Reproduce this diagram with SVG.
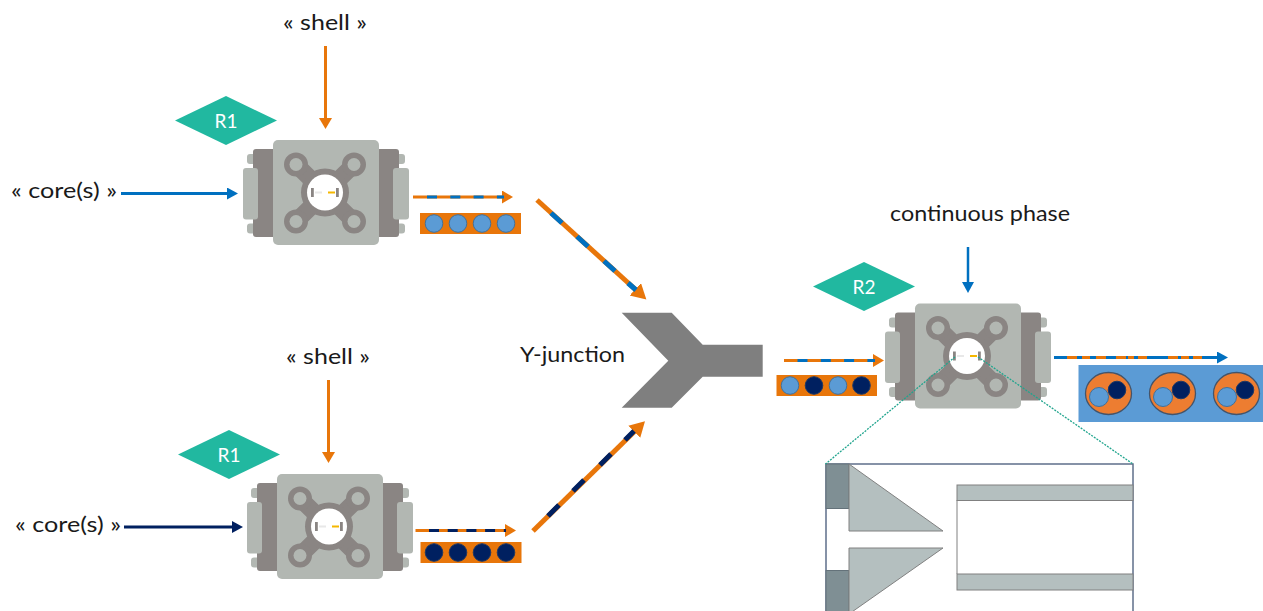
<svg xmlns="http://www.w3.org/2000/svg" xmlns:xlink="http://www.w3.org/1999/xlink" width="1263" height="611" viewBox="0 0 1263 611">
<style>
text{font-family:Lato,"Open Sans","Liberation Sans",sans-serif;font-size:22px;fill:#1a1a1a}
.r{font-size:19px;fill:#fff;text-anchor:middle}
.dia{fill:#21b8a0}
.pale{fill:#b2b7b2}
.dark{fill:#8a8583}
.xarm{stroke:#8a8583;stroke-width:17;fill:none}
.org{fill:#e8760a}
.lt{fill:#5b9bd5;stroke:#41719c;stroke-width:1}
.nv{fill:#002060;stroke:#1f3864;stroke-width:1}
.o{stroke:#e8760a;fill:none}
.b{stroke:#0070c0;fill:none}
.n{stroke:#002060;fill:none}
.teal{stroke:#21a58e;stroke-width:1.3;stroke-dasharray:2 1.2;fill:none}
.metal{fill:#b4bfbf;stroke:#808080;stroke-width:1}
.block{fill:#7f8f94;stroke:#64727a;stroke-width:1}
</style>
<defs>
<filter id="soft" x="-5%" y="-5%" width="110%" height="110%"><feGaussianBlur stdDeviation="0.45"/></filter>
<marker id="ao" markerUnits="userSpaceOnUse" markerWidth="14" markerHeight="14" refX="1" refY="6.500" orient="auto"><path d="M0 0L11 6.500L0 13Z" fill="#e8760a"/></marker>
<marker id="ab" markerUnits="userSpaceOnUse" markerWidth="14" markerHeight="14" refX="1" refY="6" orient="auto"><path d="M0 0L11 6L0 12Z" fill="#0070c0"/></marker>
<marker id="an" markerUnits="userSpaceOnUse" markerWidth="14" markerHeight="14" refX="1" refY="6" orient="auto"><path d="M0 0L11 6L0 12Z" fill="#002060"/></marker>
<marker id="ad" markerUnits="userSpaceOnUse" markerWidth="22" markerHeight="22" refX="1" refY="8.500" orient="auto"><path d="M0 0L15 8.500L0 17Z" fill="#e8760a"/></marker>
<g id="chip" filter="url(#soft)">
<rect class="pale" x="-79" y="-38.500" width="158" height="10" rx="3"/>
<rect class="pale" x="-79" y="31" width="158" height="10" rx="3"/>
<rect class="dark" x="-73" y="-43.500" width="146" height="88" rx="3"/>
<rect class="pale" x="-83" y="-24.500" width="15" height="51.500" rx="3"/>
<rect class="pale" x="67" y="-24.500" width="16" height="51.500" rx="3"/>
<rect class="pale" x="-53" y="-52.500" width="106" height="105" rx="5"/>
<path class="xarm" d="M-30-28L28 29M28-28L-30 29"/>
<g class="dark"><circle cx="-30" cy="-28" r="12"/><circle cx="28" cy="-28" r="12"/><circle cx="-30" cy="29" r="12"/><circle cx="28" cy="29" r="12"/><circle cx="-1" cy="0" r="24"/></g>
<g class="pale"><circle cx="-30" cy="-28" r="6.500"/><circle cx="28" cy="-28" r="6.500"/><circle cx="-30" cy="29" r="6.500"/><circle cx="28" cy="29" r="6.500"/></g>
<circle cx="-1" cy="0" r="18" fill="#fff"/>
<rect x="-15" y="-4.500" width="2.800" height="9" fill="#8a8583"/>
<rect x="10" y="-4.500" width="2.800" height="9" fill="#8a8583"/>
<rect x="-11" y="-1" width="7" height="2" fill="#e8e8e8"/>
<rect x="2" y="-1" width="7" height="2" fill="#f5b800"/>
</g>
</defs>

<g id="r1-top"><path class="dia" d="M175 120.500L226 96L277 120.500L226 145Z"/><text class="r" x="226" y="127.500">R1</text></g>
<g id="r1-bottom"><path class="dia" d="M178 454.500L229 430L280 454.500L229 479Z"/><text class="r" x="229" y="461.500">R1</text></g>
<g id="r2"><path class="dia" d="M813 286.500L864 262L915 286.500L864 311Z"/><text class="r" x="864" y="293.500">R2</text></g>

<g id="chip-top"><use xlink:href="#chip" href="#chip" x="326" y="192.500"/></g>
<g id="chip-bottom"><use xlink:href="#chip" href="#chip" x="330" y="526.500"/></g>

<g id="inset">
<rect x="826" y="464" width="307" height="160" fill="#fff" stroke="#5f6f8a" stroke-width="1.500"/>
<rect class="block" x="826" y="464" width="23" height="44.500"/>
<rect class="block" x="826" y="570.500" width="23" height="50"/>
<path class="metal" d="M849 464L943 531L849 531Z"/>
<path class="metal" d="M849 548L943 548L849 614Z"/>
<rect class="metal" x="957" y="485" width="176" height="15.500"/>
<rect class="metal" x="957" y="574" width="176" height="16"/>
<line x1="957" y1="500" x2="957" y2="574" stroke="#808080"/>
</g>

<g id="chip-r2"><use xlink:href="#chip" href="#chip" x="968" y="356"/></g>

<g id="y-junction"><path d="M621.700 312.700H671.700L702.700 344.700H762.700V376.700H702.700L671.700 407.700H621.700L668.300 360.700Z" fill="#7f7f7f"/></g>

<g id="stream-top"><rect class="org" x="420" y="213" width="101" height="21"/>
<circle class="lt" cx="434" cy="223.500" r="8.800"/><circle class="lt" cx="458" cy="223.500" r="8.800"/><circle class="lt" cx="482" cy="223.500" r="8.800"/><circle class="lt" cx="506" cy="223.500" r="8.800"/></g>
<g id="stream-bottom"><rect class="org" x="420.500" y="542" width="101" height="21"/>
<circle class="nv" cx="434" cy="552.500" r="8.800"/><circle class="nv" cx="458" cy="552.500" r="8.800"/><circle class="nv" cx="482" cy="552.500" r="8.800"/><circle class="nv" cx="506" cy="552.500" r="8.800"/></g>
<g id="stream-mixed"><rect class="org" x="776.500" y="375" width="100.500" height="21"/>
<circle class="lt" cx="790" cy="385.500" r="8.800"/><circle class="nv" cx="814" cy="385.500" r="8.800"/><circle class="lt" cx="838" cy="385.500" r="8.800"/><circle class="nv" cx="861.500" cy="385.500" r="8.800"/></g>
<g id="stream-out"><rect x="1078.500" y="365" width="184.500" height="57" fill="#5b9bd5"/>
<g fill="#ed7d31" stroke="#44546a" stroke-width="1.300"><ellipse cx="1108.500" cy="393.500" rx="23" ry="21"/><ellipse cx="1172.500" cy="393.500" rx="23" ry="21"/><ellipse cx="1236.500" cy="393.500" rx="23" ry="21"/></g>
<g class="nv"><circle cx="1117" cy="390" r="8.800"/><circle cx="1181" cy="390" r="8.800"/><circle cx="1245" cy="390" r="8.800"/></g>
<g class="lt" stroke-width="1.300"><circle cx="1099" cy="397" r="9.500"/><circle cx="1163" cy="397" r="9.500"/><circle cx="1227" cy="397" r="9.500"/></g></g>

<g id="labels">
<text x="283" y="30" textLength="84" lengthAdjust="spacingAndGlyphs">« shell »</text>
<text x="286" y="364" textLength="84" lengthAdjust="spacingAndGlyphs">« shell »</text>
<text x="11" y="198" textLength="106" lengthAdjust="spacingAndGlyphs">« core(s) »</text>
<text x="15" y="532" textLength="106" lengthAdjust="spacingAndGlyphs">« core(s) »</text>
<text x="520" y="362" textLength="105" lengthAdjust="spacingAndGlyphs">Y-junction</text>
<text x="890" y="221" textLength="180" lengthAdjust="spacingAndGlyphs">continuous phase</text>
</g>

<g id="connectors">
<line class="o" x1="325.500" y1="46" x2="325.500" y2="119" stroke-width="3" marker-end="url(#ao)"/>
<line class="o" x1="328.500" y1="380" x2="328.500" y2="453" stroke-width="3" marker-end="url(#ao)"/>
<line class="b" x1="121" y1="193.500" x2="228" y2="193.500" stroke-width="3" marker-end="url(#ab)"/>
<line class="n" x1="124" y1="527" x2="233" y2="527" stroke-width="3" marker-end="url(#an)"/>
<line class="b" x1="968" y1="247" x2="968" y2="283" stroke-width="2.500" marker-end="url(#ab)"/>

<line class="o" x1="413" y1="197" x2="503" y2="197" stroke-width="3" marker-end="url(#ao)"/>
<line class="b" x1="427" y1="197" x2="504" y2="197" stroke-width="3" stroke-dasharray="10 13.300"/>
<line class="o" x1="415.500" y1="530.500" x2="506" y2="530.500" stroke-width="3" marker-end="url(#ao)"/>
<line class="n" x1="429" y1="530.500" x2="506" y2="530.500" stroke-width="3" stroke-dasharray="10 8.700"/>
<line class="o" x1="784" y1="360.500" x2="874" y2="360.500" stroke-width="3" marker-end="url(#ao)"/>
<line class="b" x1="797.500" y1="360.500" x2="875" y2="360.500" stroke-width="3" stroke-dasharray="10 13.300"/>

<line class="b" x1="1054" y1="357.500" x2="1218" y2="357.500" stroke-width="3" marker-end="url(#ab)"/>
<path class="o" stroke-width="3" d="M1067 357.500h10M1082 357.500h8M1096 357.500h10M1116 357.500h10M1128 357.500h6M1138 357.500h9M1168 357.500h10M1181 357.500h8M1193 357.500h9"/>

<line class="o" x1="537" y1="200" x2="636" y2="290" stroke-width="5" marker-end="url(#ad)"/>
<path class="b" stroke-width="5" d="M551 213L562 223M577 236.500L588 246.500M604 261L615 271M628 283L636 290"/>
<line class="o" x1="533" y1="531" x2="635" y2="431" stroke-width="5" marker-end="url(#ad)"/>
<path class="n" stroke-width="5" d="M548 516L559 505M573 491L584 480M600 465L611 454M625 440L634 431"/>

<path class="teal" d="M955 357L825.500 464"/>
<path class="teal" d="M978 357L1133 464"/>
</g>
</svg>
